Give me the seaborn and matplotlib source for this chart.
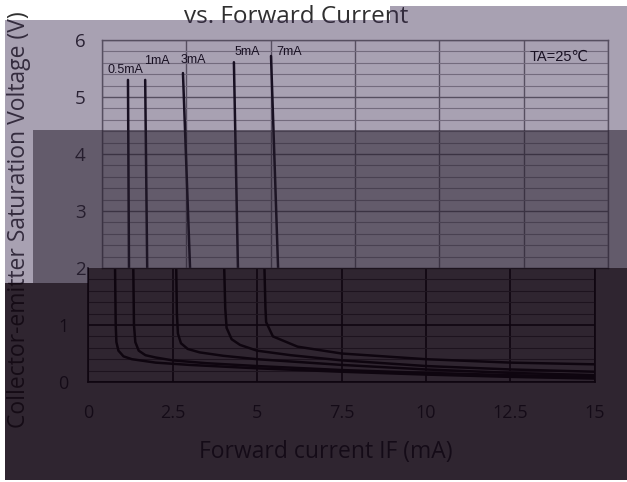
import numpy as np
import pandas as pd
import matplotlib
matplotlib.use("Agg")
import matplotlib.pyplot as plt
from matplotlib.patches import Rectangle
import seaborn as sns

# -- Donnees (IF en mA, VCE(sat) en V)
ic_labels = ["0.5mA", "1mA", "3mA", "5mA", "7mA"]
if_05 = [0.77, 0.80, 0.82, 0.84, 0.90, 1.05, 1.3, 2.0, 3.0, 5.0, 7.5, 10, 12.5, 15]
vce_05 = [5.30, 2.0, 1.0, 0.70, 0.55, 0.45, 0.40, 0.34, 0.30, 0.24, 0.18, 0.13, 0.09, 0.06]
if_1 = [1.28, 1.34, 1.36, 1.40, 1.50, 1.7, 2.0, 2.5, 3.5, 5.0, 7.5, 10, 12.5, 15]
vce_1 = [5.30, 2.0, 1.0, 0.70, 0.55, 0.47, 0.43, 0.38, 0.33, 0.28, 0.21, 0.16, 0.12, 0.09]
if_3 = [2.40, 2.61, 2.63, 2.66, 2.75, 2.95, 3.3, 4.0, 5.0, 7.5, 10, 12.5, 15]
vce_3 = [5.42, 2.0, 1.2, 0.85, 0.68, 0.58, 0.52, 0.46, 0.40, 0.30, 0.22, 0.16, 0.12]
if_5 = [3.91, 4.03, 4.06, 4.10, 4.25, 4.5, 5.0, 6.0, 7.5, 10, 12.5, 15]
vce_5 = [5.61, 2.0, 1.3, 0.95, 0.75, 0.65, 0.55, 0.47, 0.38, 0.28, 0.22, 0.18]
if_7 = [5.01, 5.22, 5.25, 5.27, 5.47, 6.2, 7.5, 10, 12.5, 15]
vce_7 = [5.72, 2.0, 1.3, 1.05, 0.80, 0.62, 0.50, 0.40, 0.34, 0.31]

x_ticks = [0, 2.5, 5, 7.5, 10, 12.5, 15]
x_tick_labels = ["0", "2.5", "5", "7.5", "10", "12.5", "15"]

curves = [(if_05, vce_05), (if_1, vce_1), (if_3, vce_3), (if_5, vce_5), (if_7, vce_7)]
frames = []
for lab, (xs, ys) in zip(ic_labels, curves):
    frames.append(pd.DataFrame({"IF": xs, "VCE": ys, "IC": lab}))
df = pd.concat(frames, ignore_index=True)

# -- positions des etiquettes (coord. donnees)
lab_pos = {"0.5mA": (0.68, 5.47), "1mA": (1.63, 5.63), "3mA": (2.72, 5.65),
           "5mA": (4.3, 5.79), "7mA": (5.55, 5.79)}

sns.set_theme(style="white")
plt.rcParams["font.family"] = ["Open Sans", "DejaVu Sans"]

W, H = 627, 482
fig = plt.figure(figsize=(W / 100, H / 100), dpi=100)
fig.patch.set_facecolor("white")


def box(x0, y0, x1, y1):
    # pixels (origine en haut a gauche) -> fractions de figure
    return [x0 / W, 1 - y1 / H, (x1 - x0) / W, (y1 - y0) / H]


palette = {k: "black" for k in ic_labels}

# -- graphe du bas (0..2 V)
ax = fig.add_axes(box(88, 268, 595, 382))
sns.lineplot(data=df, x="IF", y="VCE", hue="IC", palette=palette, sort=False,
             estimator=None, legend=False, lw=1.8, ax=ax)
ax.set_xlim(0, 15)
ax.set_ylim(0, 2)
ax.set_xticks(x_ticks)
ax.set_xticklabels(x_tick_labels)
ax.set_yticks([0, 1])
ax.set_yticks(np.arange(0.2, 1.81, 0.2), minor=True)
ax.grid(True, which="major", color="black", lw=1.2)
ax.grid(True, which="minor", axis="y", color="#707070", lw=0.8)
ax.tick_params(axis="both", which="both", length=0, labelsize=13, colors="#303040")
ax.tick_params(axis="x", pad=16)
ax.tick_params(axis="y", pad=14)
for s in ax.spines.values():
    s.set_color("black")
    s.set_linewidth(1.2)
ax.spines["top"].set_visible(False)
ax.set_xlabel("")
ax.set_ylabel("")

# -- partie haute (image decalee du datasheet)
ax2 = fig.add_axes(box(102, 40, 608, 268), zorder=0.2)
ax2.set_facecolor("white")
sns.lineplot(data=df, x="IF", y="VCE", hue="IC", palette=palette, sort=False,
             estimator=None, legend=False, lw=1.8, ax=ax2)
ax2.set_xlim(0, 15)
ax2.set_ylim(2, 6)
ax2.set_xticks(x_ticks)
ax2.set_xticklabels([])
ax2.set_yticks(range(2, 7))
ax2.set_yticks(np.arange(2, 6.01, 0.2), minor=True)
ax2.grid(True, which="major", color="#6e6e6e", lw=1.0)
ax2.grid(True, which="minor", axis="y", color="#a0a0a0", lw=0.8)
ax2.tick_params(axis="both", which="both", length=0, labelsize=13.5, colors="#202020")
ax2.tick_params(axis="y", pad=12)
for s in ax2.spines.values():
    s.set_color("#6e6e6e")
    s.set_linewidth(1.0)
ax2.set_xlabel("")
ax2.set_ylabel("")
for lab in ic_labels:
    px, py = lab_pos[lab]
    ax2.text(px, py, lab, fontsize=9, ha="center", va="center",
             family=["Liberation Sans", "DejaVu Sans"], color="black")
ax2.text(13.55, 5.7, "TA=25℃", fontsize=10.5, ha="center", va="center",
         family=["Liberation Sans", "DejaVu Sans"], color="black")

# -- titres
fig.text(296 / W, 1 - 17 / H, "vs. Forward Current", fontsize=17.5, ha="center",
         va="center", color="#303030", zorder=0.5)
fig.text(326 / W, 1 - 452 / H, "Forward current IF (mA)", fontsize=16.5,
         ha="center", va="center", color="#303040", zorder=0.5)
fig.text(19 / W, 1 - 220 / H, "Collector-emitter Saturation Voltage (V)",
         fontsize=16.5, rotation=90, ha="center", va="center", color="#303030",
         zorder=0.5)

# -- voiles colores superposes
light = (57 / 255, 39 / 255, 80 / 255)
mid = (41 / 255, 30 / 255, 52 / 255)
dark = (17 / 255, 6 / 255, 18 / 255)
voiles = [
    (5, 20, 627, 130, light, 0.435),
    (390, 6, 627, 20, light, 0.435),
    (5, 130, 33, 283, light, 0.435),
    (33, 130, 627, 268, mid, 0.73),
    (33, 268, 88, 283, mid, 0.73),
    (88, 268, 627, 283, dark, 0.875),
    (5, 283, 627, 480, dark, 0.875),
]
for x0, y0, x1, y1, c, a in voiles:
    l, b, w, h = box(x0, y0, x1, y1)
    fig.patches.append(Rectangle((l, b), w, h, transform=fig.transFigure,
                                 facecolor=c, alpha=a, edgecolor="none", zorder=5))

fig.savefig("out.png", dpi=100)
